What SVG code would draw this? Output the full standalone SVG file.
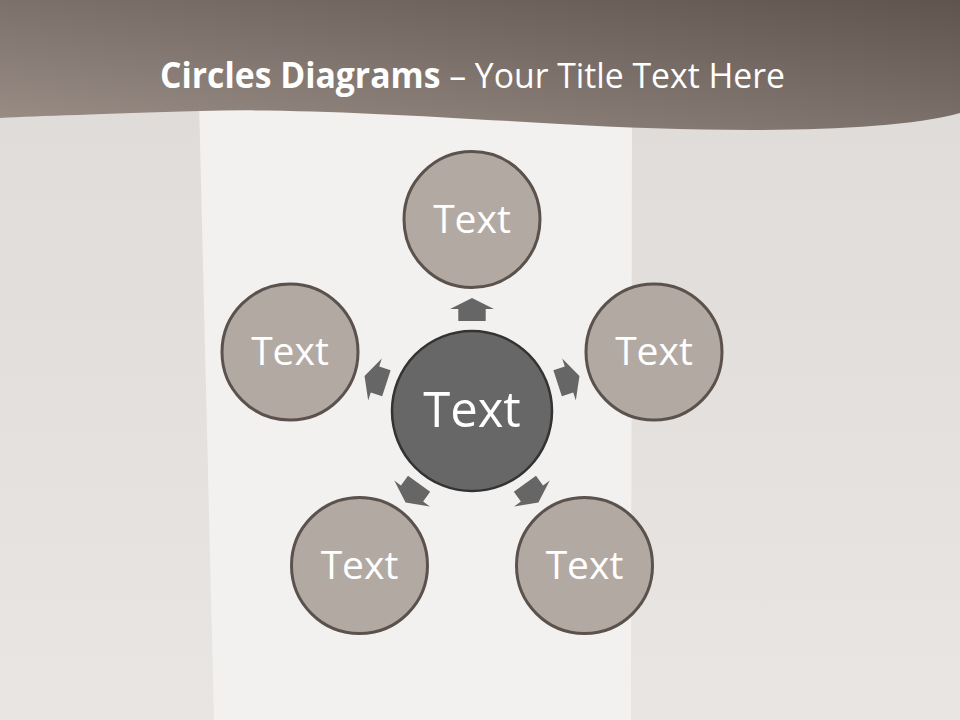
<svg xmlns="http://www.w3.org/2000/svg" width="960" height="720" viewBox="0 0 960 720">
  <defs>
    <linearGradient id="hdr" x1="0" y1="1" x2="1" y2="0">
      <stop offset="0" stop-color="#9a8e87"/>
      <stop offset="1" stop-color="#5f554e"/>
    </linearGradient>
    <linearGradient id="side" x1="0" y1="0" x2="0" y2="1">
      <stop offset="0" stop-color="#dedad7"/>
      <stop offset="1" stop-color="#e8e5e2"/>
    </linearGradient>
    <style>
      .outer{fill:#b3a9a3;stroke:#5b524d;stroke-width:3}
      .center{fill:#676767;stroke:#333333;stroke-width:2.5}
      .lbl{font-family:"Open Sans","Noto Sans",sans-serif;fill:#ffffff;text-anchor:middle}
      .arrow{fill:#666666}
    </style>
  </defs>

  <!-- background -->
  <rect x="0" y="0" width="960" height="720" fill="url(#side)"/>
  <polygon points="199,100 632,100 631,720 214,720" fill="#f3f1ef"/>

  <!-- header band -->
  <path d="M0,0 H960 V113 C880,135 700,132 560,124 C420,116 300,108 200,111 C100,114 40,116 0,118 Z" fill="url(#hdr)"/>
  <text x="160" y="88" textLength="625" lengthAdjust="spacingAndGlyphs" font-family="'Open Sans','Noto Sans',sans-serif" font-size="35" fill="#ffffff"><tspan font-weight="bold">Circles Diagrams</tspan> – Your Title Text Here</text>

  <!-- connectors -->
  <g id="connectors" transform="translate(472,411)">
    <path id="arrow-top" class="arrow" d="M0,-113 L22,-102 L13.7,-102 L13.7,-90 L-13.7,-90 L-13.7,-102 L-22,-102 Z"/>
    <use href="#arrow-top" transform="rotate(72)"/>
    <use href="#arrow-top" transform="rotate(144)"/>
    <use href="#arrow-top" transform="rotate(216)"/>
    <use href="#arrow-top" transform="rotate(288)"/>
  </g>

  <!-- nodes -->
  <g id="node-center">
    <circle class="center" cx="472" cy="411" r="80"/>
    <text class="lbl" x="472" y="427" font-size="49">Text</text>
  </g>
  <g id="node-top">
    <circle class="outer" cx="472" cy="219.5" r="68"/>
    <text class="lbl" x="472" y="233" font-size="39">Text</text>
  </g>
  <g id="node-right">
    <circle class="outer" cx="654" cy="352" r="68"/>
    <text class="lbl" x="654" y="365" font-size="39">Text</text>
  </g>
  <g id="node-bottom-right">
    <circle class="outer" cx="584.5" cy="565.5" r="68"/>
    <text class="lbl" x="584.5" y="579" font-size="39">Text</text>
  </g>
  <g id="node-bottom-left">
    <circle class="outer" cx="359.5" cy="565.5" r="68"/>
    <text class="lbl" x="359.5" y="579" font-size="39">Text</text>
  </g>
  <g id="node-left">
    <circle class="outer" cx="290" cy="352" r="68"/>
    <text class="lbl" x="290" y="365" font-size="39">Text</text>
  </g>
</svg>
